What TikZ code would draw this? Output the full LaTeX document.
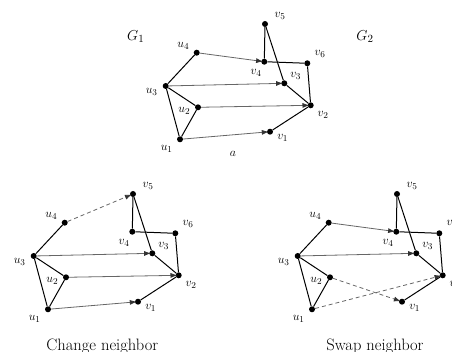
\documentclass[tikz,border=0pt]{standalone}
\usetikzlibrary{arrows.meta}
\tikzset{
 dot/.style={circle,fill=black,inner sep=0pt,minimum size=6pt},
 edge/.style={line width=1pt,black},
 match/.style={line width=0.8pt,black!60,-{Latex[length=7pt,width=5pt,color=black!80]},shorten >=-2pt},
 dmatch/.style={match,dash pattern=on 4pt off 3pt},
 lab/.style={font=\fontsize{12.5}{14}\selectfont,inner sep=0pt},
 captext/.style={font=\fontsize{16.5}{19}\selectfont,inner sep=0pt,anchor=base},
}
\newcommand\basegraph[1]{%
 \node[dot] (#1u1) at (180,139.3) {};
 \node[dot] (#1u2) at (198,107.3) {};
 \node[dot] (#1u3) at (165.7,86) {};
 \node[dot] (#1u4) at (196.7,52.7) {};
 \node[dot] (#1v1) at (270,131.7) {};
 \node[dot] (#1v2) at (310.7,105.3) {};
 \node[dot] (#1v3) at (284.3,83.3) {};
 \node[dot] (#1v4) at (264.3,61.7) {};
 \node[dot] (#1v5) at (265,24) {};
 \node[dot] (#1v6) at (307.3,63.3) {};
 \draw[edge] (#1u4)--(#1u3)--(#1u1)--(#1u2)--(#1u3);
 \draw[edge] (#1v5)--(#1v4)--(#1v6)--(#1v2)--(#1v1);
 \draw[edge] (#1v5)--(#1v3)--(#1v2);
 \node[lab] (#1lu4) at (183.3,45.7) {$u_4$};
 \node[lab] (#1lv5) at (280,16) {$v_5$};
 \node[lab] (#1lv6) at (320,54) {$v_6$};
 \node[lab] (#1lv4) at (256,73.3) {$v_4$};
 \node[lab] (#1lv3) at (295.7,76) {$v_3$};
 \node[lab] (#1lu3) at (151.7,92.3) {$u_3$};
 \node[lab] (#1lu2) at (184.3,111) {$u_2$};
 \node[lab] (#1lv2) at (323,115) {$v_2$};
 \node[lab] (#1lv1) at (282.7,138.3) {$v_1$};
 \node[lab] (#1lu1) at (166.7,149) {$u_1$};
}
\begin{document}
\begin{tikzpicture}[x=1pt,y=-1pt]
\useasboundingbox (0,0) rectangle (452,352);
\clip (0,0) rectangle (452,352);
% top
\basegraph{a}
\draw[match] (au4)--(av4);
\draw[match] (au3)--(av3);
\draw[match] (au2)--(av2);
\draw[match] (au1)--(av1);
\node[lab,font=\fontsize{15}{17}\selectfont] (g1) at (135.7,36.7) {$G_1$};
\node[lab,font=\fontsize{15}{17}\selectfont] (g2) at (365,37) {$G_2$};
\node[lab,font=\fontsize{13}{15}\selectfont] (alab) at (233,154) {$a$};
% change neighbor
\begin{scope}[shift={(-132,170)}]
\basegraph{b}
\draw[dmatch] (bu4)--(bv5);
\draw[match] (bu3)--(bv3);
\draw[match] (bu2)--(bv2);
\draw[match] (bu1)--(bv1);
\end{scope}
\node[captext] (capb) at (102.3,350) {Change neighbor};
% swap neighbor
\begin{scope}[shift={(132,170)}]
\basegraph{c}
\draw[match] (cu4)--(cv4);
\draw[match] (cu3)--(cv3);
\draw[dmatch] (cu2)--(cv1);
\draw[dmatch] (cu1)--(cv2);
\end{scope}
\node[captext] (capc) at (375,350) {Swap neighbor};
\end{tikzpicture}
\end{document}
